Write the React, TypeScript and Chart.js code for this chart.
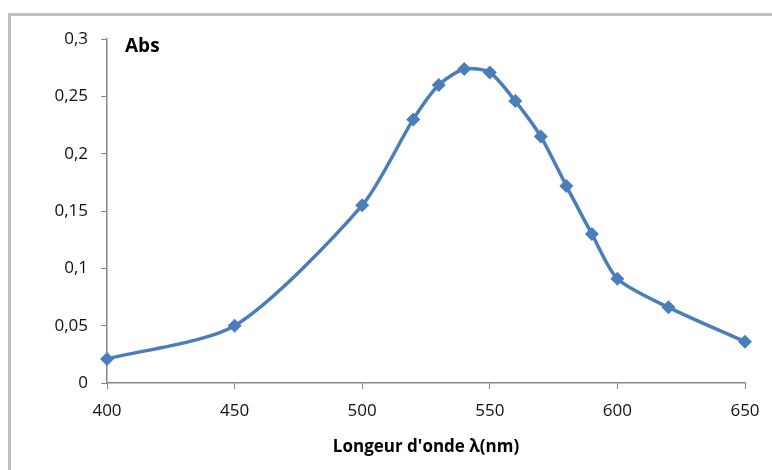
import React, { useEffect, useRef } from "react";
import { Chart, registerables } from "chart.js";

Chart.register(...registerables);

const wavelengths = [400, 450, 500, 520, 530, 540, 550, 560, 570, 580, 590, 600, 620, 650];
const absorbance = [0.021, 0.05, 0.155, 0.23, 0.26, 0.274, 0.271, 0.246, 0.215, 0.172, 0.13, 0.091, 0.066, 0.036];
const xTitle = "Longeur d'onde λ(nm)";
const yLabel = "Abs";

const FONT = "'Open Sans', 'Noto Sans', sans-serif";

const absLabelPlugin = {
  id: "absLabel",
  afterDraw(chart: any) {
    const { ctx, chartArea } = chart;
    ctx.save();
    ctx.font = `bold 19px ${FONT}`;
    ctx.fillStyle = "#000000";
    ctx.textAlign = "left";
    ctx.textBaseline = "middle";
    ctx.fillText(yLabel, chartArea.left + 18, chartArea.top + 7);
    ctx.restore();
  },
};

export default function App() {
  const ref = useRef<HTMLCanvasElement | null>(null);
  useEffect(() => {
    if (!ref.current) return;
    const chart = new Chart(ref.current, {
      type: "line",
      data: {
        datasets: [
          {
            data: wavelengths.map((x, i) => ({ x, y: absorbance[i] })),
            borderColor: "#4a7ebb",
            backgroundColor: "#4a7ebb",
            borderWidth: 3.5,
            pointStyle: "rectRot",
            pointRadius: 7,
            pointBorderWidth: 0,
            tension: 0.25,
            clip: false,
          },
        ],
      },
      options: {
        animation: false,
        responsive: true,
        maintainAspectRatio: false,
        layout: { padding: { top: 22, right: 27, left: 0, bottom: 0 } },
        plugins: { legend: { display: false }, tooltip: { enabled: false } },
        scales: {
          x: {
            type: "linear",
            min: 400,
            max: 650,
            ticks: {
              stepSize: 50,
              color: "#111111",
              font: { family: FONT, size: 17 },
              padding: 12,
              maxRotation: 0,
            },
            grid: { display: true, drawOnChartArea: false, drawTicks: true, tickLength: 6, color: "#868686" },
            border: { display: true, color: "#868686", width: 1.5 },
            title: {
              display: true,
              text: xTitle,
              color: "#000000",
              font: { family: FONT, size: 17, weight: "bold" },
              padding: { top: 0, bottom: 13 },
            },
            afterFit: (s: any) => {
              s.height = 87;
            },
          },
          y: {
            min: 0,
            max: 0.3,
            ticks: {
              stepSize: 0.05,
              color: "#111111",
              font: { family: FONT, size: 17 },
              padding: 13,
              callback: (v: any) => String(Math.round(Number(v) * 100) / 100).replace(".", ","),
            },
            grid: { display: true, drawOnChartArea: false, drawTicks: true, tickLength: 6, color: "#868686" },
            border: { display: true, color: "#868686", width: 1.5 },
            afterFit: (s: any) => {
              s.width = 96;
            },
          },
        },
      },
      plugins: [absLabelPlugin],
    });
    return () => chart.destroy();
  }, []);

  return (
    <div
      style={{
        position: "absolute",
        left: 8,
        top: 13,
        width: 764,
        height: 457,
        boxSizing: "border-box",
        borderLeft: "3px solid #c0c0c0",
        borderTop: "3px solid #c0c0c0",
        background: "#ffffff",
      }}
    >
      <div style={{ position: "relative", width: 761, height: 454 }}>
        <canvas ref={ref} />
      </div>
    </div>
  );
}
